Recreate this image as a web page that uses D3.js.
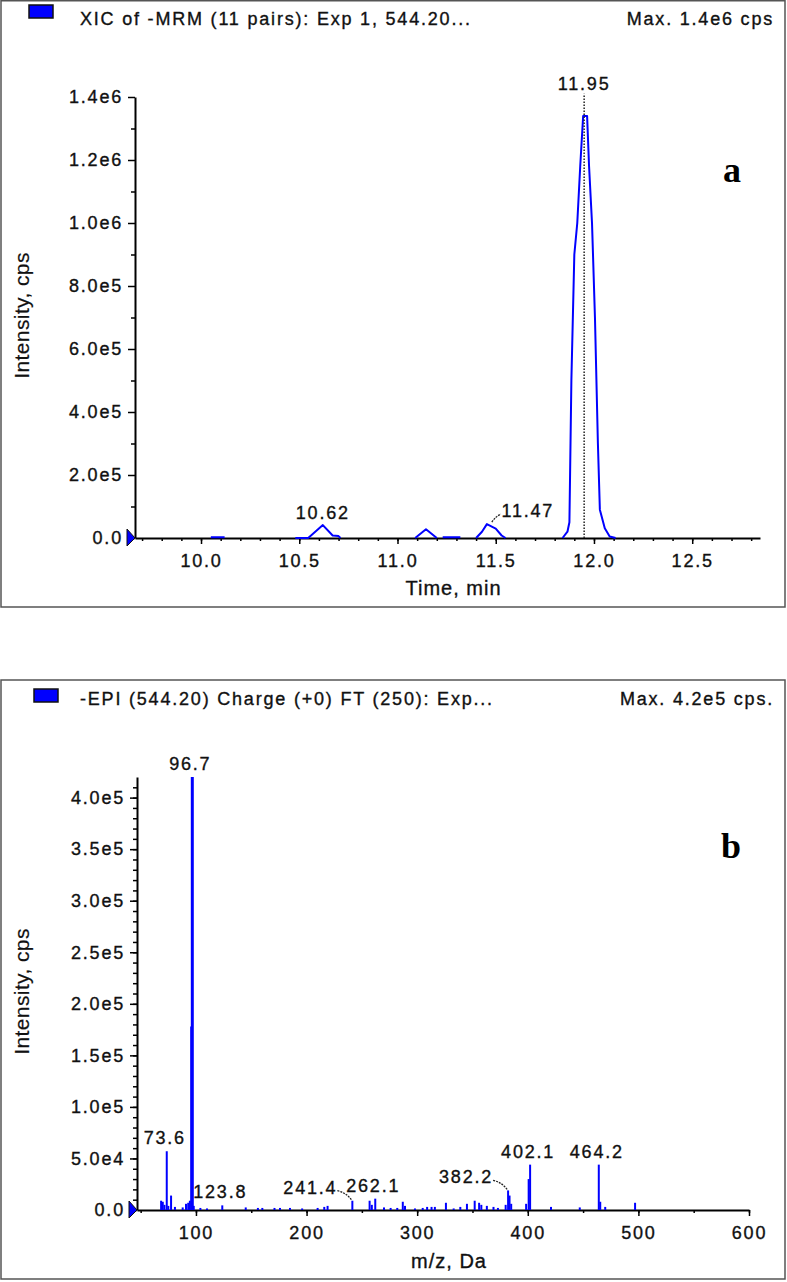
<!DOCTYPE html>
<html>
<head>
<meta charset="utf-8">
<script src="https://cdn.jsdelivr.net/npm/d3@7"></script>
<style>
  body { margin: 0; background: #fff; }
  svg { display: block; font-family: "Liberation Sans", Arial, sans-serif; }
  .t { font-size: 18px; letter-spacing: 1.8px; fill: #111; stroke: #111; stroke-width: 0.35px; }
  .axis path, .axis line { stroke: #000; }
  .axis text { font-size: 18px; letter-spacing: 1.8px; fill: #111; stroke: #111; stroke-width: 0.35px;
               font-family: "Liberation Sans", Arial, sans-serif; }
</style>
</head>
<body>
<svg id="chart" width="787" height="1282"></svg>
<script>
// ---- panel a : XIC chromatogram (null = gap in trace)
const xicTime = [
  10.05, 10.12, null,
  10.48, 10.545, 10.56, 10.62, 10.67, 10.70, 10.71, null,
  11.09, 11.145, 11.20, null,
  11.23, 11.32, null,
  11.40, 11.43, 11.455, 11.50, 11.53, 11.55, null,
  11.84, 11.865, 11.875, 11.885, 11.90, 11.915, 11.93, 11.945, 11.955, 11.965,
  11.975, 11.99, 12.005, 12.02, 12.03, 12.055, 12.08, 12.11
];
const xicIntensity = [
  2500, 2500, null,
  0, 0, 8000, 41000, 8000, 6000, 0, null,
  0, 28000, 0, null,
  2500, 2500, null,
  0, 20000, 44000, 30000, 8000, 0, null,
  0, 20000, 50000, 500000, 900000, 1000000, 1180000, 1340000, 1340000, 1340000,
  1180000, 1000000, 700000, 300000, 90000, 31000, 5000, 0
];
const xicYTicks = [0, 2e5, 4e5, 6e5, 8e5, 1.0e6, 1.2e6, 1.4e6];
const xicXTicks = [10.0, 10.5, 11.0, 11.5, 12.0, 12.5];
const xicPeakTime = [10.62, 11.47, 11.95];
const xicPeakValue = [41000, 44000, 1400000];
const xicPeakText = ["10.62", "11.47", "11.95"];

// ---- panel b : EPI product ion spectrum
const msMz = [
  68.5, 70, 71.5, 73.6, 75, 77.5, 81, 88, 91, 93, 94.5, 95.7, 96.7, 98,
  104, 110, 123.8, 145, 156, 160, 171, 176, 185, 196, 210, 216, 219,
  241.4, 257, 259, 262.1, 270, 276, 282, 287, 289, 298, 305, 309, 313, 316,
  326, 333, 339, 345, 352, 356, 358, 363, 369, 373, 380, 382.2, 383.5, 385,
  398.5, 400.8, 402.1, 421, 447, 464.2, 465.5, 470, 497
];
const msIntensity = [
  9000, 8000, 5000, 57000, 4000, 14000, 3000, 2500, 6000, 7000, 9000, 178000, 420000, 4000,
  2000, 1500, 4500, 2500, 2000, 2000, 2000, 2000, 2000, 1500, 2000, 3000, 4000,
  9000, 9000, 5000, 11000, 2500, 2000, 2000, 8000, 4000, 1500, 2000, 3000, 3000, 3000,
  7000, 1500, 3000, 6000, 9000, 7000, 5000, 4000, 3000, 2000, 5000, 19000, 14000, 6000,
  6000, 30000, 44000, 3000, 2500, 44000, 8000, 3000, 7000
];
const msYTicks = [0, 5e4, 1.0e5, 1.5e5, 2.0e5, 2.5e5, 3.0e5, 3.5e5, 4.0e5];
const msXTicks = [100, 200, 300, 400, 500, 600];
const msPeakMz = [73.6, 96.7, 123.8, 241.4, 262.1, 382.2, 402.1, 464.2];
const msPeakValue = [57000, 420000, 4500, 9000, 11000, 19000, 44000, 44000];
const msPeakText = ["73.6", "96.7", "123.8", "241.4", "262.1", "382.2", "402.1", "464.2"];
const msLeader = [false, false, false, true, false, true, false, false];

const svg = d3.select("#chart");
const BLUE = "#0000ff";

const expFmt = (v) => v === 0 ? "0.0" : d3.format(".1e")(v).replace("+", "");

function frame(top, bottom) {
  svg.append("rect")
    .attr("x", 1).attr("y", top).attr("width", 784).attr("height", bottom - top)
    .attr("fill", "none").attr("stroke", "#555").attr("stroke-width", 1.5);
}

function header(top, sq, left, right) {
  svg.append("rect")
    .attr("x", sq[0]).attr("y", top + sq[1]).attr("width", 24).attr("height", 13)
    .attr("fill", BLUE).attr("stroke", "#111").attr("stroke-width", 1.5);
  svg.append("text").attr("class", "t").attr("x", 80).attr("y", top + 20).text(left);
  svg.append("text").attr("class", "t").attr("x", 774).attr("y", top + 20)
    .attr("text-anchor", "end").text(right);
}

function axes(x, y, xMajor, xMinor, yMajor, yMinor, xFmt, xTitle, yTitle, titleY) {
  const y0 = y.range()[0], x0 = x.range()[0];
  // minor ticks first
  svg.append("g").attr("class", "axis").attr("transform", `translate(0,${y0})`)
    .call(d3.axisBottom(x).tickValues(xMinor).tickSize(3).tickFormat(""))
    .call((g) => g.select(".domain").remove())
    .selectAll("line").attr("stroke-width", 1.5);
  svg.append("g").attr("class", "axis").attr("transform", `translate(${x0},0)`)
    .call(d3.axisLeft(y).tickValues(yMinor).tickSize(4).tickFormat(""))
    .call((g) => g.select(".domain").remove())
    .selectAll("line").attr("stroke-width", 1.5);

  const gx = svg.append("g").attr("class", "axis").attr("transform", `translate(0,${y0})`)
    .call(d3.axisBottom(x).tickValues(xMajor).tickSize(6).tickSizeOuter(0).tickPadding(10).tickFormat(xFmt));
  gx.select(".domain").attr("stroke-width", 2);
  gx.selectAll("line").attr("stroke-width", 1.5);

  const gy = svg.append("g").attr("class", "axis").attr("transform", `translate(${x0},0)`)
    .call(d3.axisLeft(y).tickValues(yMajor).tickSize(7).tickSizeOuter(0).tickPadding(5).tickFormat(expFmt));
  gy.select(".domain").attr("stroke-width", 2);
  gy.selectAll("line").attr("stroke-width", 1.5);

  // start-of-trace marker
  svg.append("path")
    .attr("d", `M${x0 - 8},${y0 - 9}L${x0 - 8},${y0 + 8}L${x0},${y0}Z`)
    .attr("fill", BLUE).attr("stroke", "#111").attr("stroke-width", 1);

  svg.append("text").attr("class", "t")
    .attr("x", (x.range()[0] + x.range()[1]) / 2 + 6).attr("y", titleY)
    .attr("text-anchor", "middle").style("font-size", "20px").style("letter-spacing", "1px")
    .text(xTitle);
  svg.append("text").attr("class", "t")
    .attr("transform", `translate(29,${(y.range()[0] + y.range()[1]) / 2 - 2}) rotate(-90)`)
    .attr("text-anchor", "middle").style("font-size", "21px").style("letter-spacing", "0.4px")
    .style("stroke-width", "0.2px")
    .text(yTitle);
}

function panelLetter(letter, px, py) {
  svg.append("text")
    .attr("x", px).attr("y", py).attr("text-anchor", "middle")
    .style("font-family", "'Liberation Serif', 'Times New Roman', serif")
    .style("font-weight", "bold").style("font-size", "36px").attr("fill", "#000")
    .text(letter);
}

// ================= panel a =================
{
  frame(0.75, 607);
  header(5, [29, 0], "XIC of -MRM (11 pairs): Exp 1, 544.20...", "Max. 1.4e6 cps");

  const x = d3.scaleLinear().domain([9.664, 12.845]).range([135, 760]);
  const y = d3.scaleLinear().domain([0, 1.4e6]).range([538, 97]);

  const xMinor = d3.range(97, 129).map((v) => v / 10);
  const yMinor = d3.range(1, 14, 2).map((v) => v * 1e5);
  axes(x, y, xicXTicks, xMinor, xicYTicks, yMinor, d3.format(".1f"), "Time, min", "Intensity, cps", 595);

  const pts = xicTime.map((t, i) => [t, xicIntensity[i]]);
  const line = d3.line().defined((d) => d[0] != null && d[1] != null)
    .x((d) => x(d[0])).y((d) => y(d[1]));
  svg.append("path").datum(pts).attr("d", line)
    .attr("fill", "none").attr("stroke", BLUE).attr("stroke-width", 2).attr("stroke-linejoin", "round");

  // apex marker of the main peak
  svg.append("line")
    .attr("x1", x(11.95)).attr("x2", x(11.95)).attr("y1", y(0)).attr("y2", y(1.41e6))
    .attr("stroke", "#222").attr("stroke-width", 1.5).attr("stroke-dasharray", "1.5,1.5");

  xicPeakTime.forEach((t, i) => {
    const isLeader = xicPeakText[i] === "11.47";
    const px = x(t) + (isLeader ? 38 : 0);
    const py = y(xicPeakValue[i]) - (i === 2 ? 7 : 6);
    svg.append("text").attr("class", "t").attr("x", px).attr("y", isLeader ? py - 1 : py)
      .attr("text-anchor", "middle").text(xicPeakText[i]);
    if (isLeader) {
      svg.append("path")
        .attr("d", `M${x(t) + 2},${y(xicPeakValue[i]) - 2} Q${x(t) + 6},${y(xicPeakValue[i]) - 8} ${x(t) + 11},${y(xicPeakValue[i]) - 10}`)
        .attr("fill", "none").attr("stroke", "#222").attr("stroke-width", 1.3).attr("stroke-dasharray", "2,1");
    }
  });

  panelLetter("a", 732, 182);
}

// ================= panel b =================
{
  frame(680, 1279);
  header(685, [34, 4], "-EPI (544.20) Charge (+0) FT (250): Exp...", "Max. 4.2e5 cps.");

  const x = d3.scaleLinear().domain([46.7, 600]).range([137, 749]);
  const y = d3.scaleLinear().domain([0, 4.2e5]).range([1210, 777]);

  const xMinor = d3.range(50, 601, 50);
  const yMinor = d3.range(1e4, 4.2e5, 1e4);
  axes(x, y, msXTicks, xMinor, msYTicks, yMinor, d3.format("d"), "m/z, Da", "Intensity, cps", 1268);

  svg.append("g").selectAll("line")
    .data(msMz.map((m, i) => [m, msIntensity[i]]))
    .join("line")
    .attr("x1", (d) => x(d[0])).attr("x2", (d) => x(d[0]))
    .attr("y1", y(0)).attr("y2", (d) => y(d[1]))
    .attr("stroke", BLUE).attr("stroke-width", (d) => d[1] > 3e5 ? 3 : 2);

  msPeakMz.forEach((m, i) => {
    const top = y(msPeakValue[i]);
    const px = msLeader[i] ? x(m) - 42 : x(m) - 2;
    svg.append("text").attr("class", "t").attr("x", px).attr("y", top - 7)
      .attr("text-anchor", "middle").text(msPeakText[i]);
    if (msLeader[i]) {
      svg.append("path")
        .attr("d", `M${x(m) - 15},${top - 10} Q${x(m) - 6},${top - 8} ${x(m) - 1},${top - 1}`)
        .attr("fill", "none").attr("stroke", "#222").attr("stroke-width", 1.3).attr("stroke-dasharray", "2,1");
    }
  });

  panelLetter("b", 731, 858);
}
</script>
</body>
</html>
